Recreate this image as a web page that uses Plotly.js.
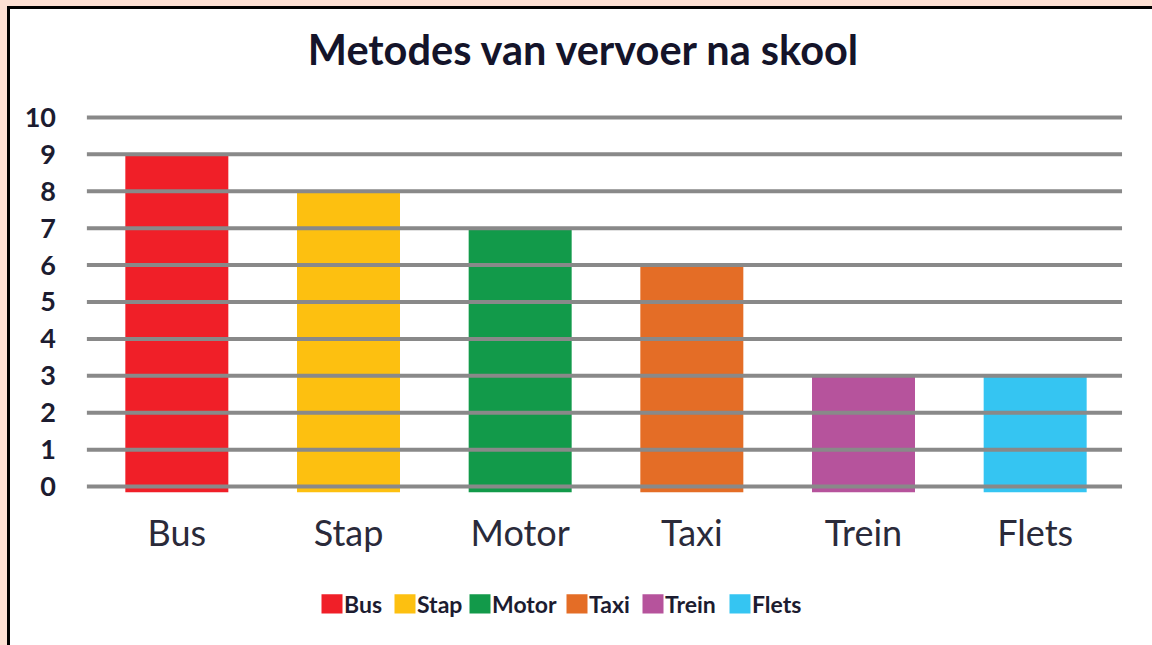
<!DOCTYPE html>
<html>
<head>
<meta charset="utf-8">
<script src="https://cdn.plot.ly/plotly-3.0.1.min.js"></script>
<style>
  html, body { margin: 0; padding: 0; }
  body { width: 1152px; height: 645px; background: #FDE0D3; position: relative; overflow: hidden; }
  #frame { position: absolute; left: 7px; top: 6px; width: 1200px; height: 700px;
           background: #ffffff; border-left: 3px solid #000; border-top: 3px solid #000; }
  #chart { position: absolute; left: 0; top: 0; width: 1152px; height: 645px; }
  .legendpoints path {
    transform-box: fill-box; transform-origin: center;
    transform: translate(28px, 0) scale(1.75, 1.6);
  }
</style>
</head>
<body>
<div id="frame"></div>
<div id="chart"></div>
<script>
const categories = ["Bus", "Stap", "Motor", "Taxi", "Trein", "Flets"];
const values = [9, 8, 7, 6, 3, 3];
const colors = ["#F01F28", "#FDC010", "#129A4A", "#E46D26", "#B6539C", "#35C5F2"];
const tickValues = [0, 1, 2, 3, 4, 5, 6, 7, 8, 9, 10];
const tickLabels = ["0", "1", "2", "3", "4", "5", "6", "7", "8", "9", "10"];

// layout-only: left edge (px) of each legend entry's swatch
const legendSwatchLeft = [322, 395, 470, 567, 643, 730];

const barBase = -0.15;
const FONT = "Lato, 'Open Sans', sans-serif";
const TEXT = "#1c1c30";

const legendIds = categories.map((c, i) => i === 0 ? "legend" : "legend" + (i + 1));

const traces = categories.map((c, i) => ({
  type: "bar",
  name: c,
  x: [c],
  y: [values[i] - barBase],
  base: barBase,
  width: 0.6,
  marker: { color: colors[i], line: { width: 0 } },
  legend: legendIds[i],
  hoverinfo: "x+name"
}));

const shapes = tickValues.map(v => ({
  type: "line", xref: "paper", yref: "y",
  x0: -0.004, x1: 1.001, y0: v, y1: v,
  line: { color: "#898989", width: 4 },
  layer: "above"
}));

const layout = {
  width: 1152, height: 645,
  paper_bgcolor: "rgba(0,0,0,0)",
  plot_bgcolor: "rgba(0,0,0,0)",
  margin: { l: 91, r: 31, t: 110, b: 151 },
  barmode: "overlay",
  showlegend: true,
  title: {
    text: "<b>Metodes van vervoer na skool</b>",
    font: { family: FONT, size: 41.5, color: "#14142a" },
    x: 583 / 1152, xanchor: "center", xref: "container",
    y: 1 - 50 / 645, yanchor: "middle", yref: "container"
  },
  xaxis: {
    categoryorder: "array", categoryarray: categories,
    range: [-0.5, 5.5],
    showgrid: false, zeroline: false, showline: false, ticks: "",
    tickfont: { family: FONT, size: 36, color: "#2a2a3a" },
    ticklabelstandoff: 15
  },
  yaxis: {
    range: [-0.2, 10.2],
    tickvals: tickValues, ticktext: tickLabels,
    showgrid: false, zeroline: false, showline: false, ticks: "",
    tickfont: { family: FONT, size: 27, color: TEXT, weight: "bold" },
    ticklabelstandoff: 34
  },
  shapes: shapes
};

legendIds.forEach((id, i) => {
  layout[id] = {
    orientation: "h",
    x: (legendSwatchLeft[i] - 18) / 1152, xanchor: "left", xref: "container",
    y: 1 - 604 / 645, yanchor: "middle", yref: "container",
    font: { family: FONT, size: 23, color: TEXT, weight: "bold" },
    bgcolor: "rgba(0,0,0,0)",
    itemclick: false, itemdoubleclick: false
  };
});

Plotly.newPlot("chart", traces, layout, { displayModeBar: false, staticPlot: true });
</script>
</body>
</html>
